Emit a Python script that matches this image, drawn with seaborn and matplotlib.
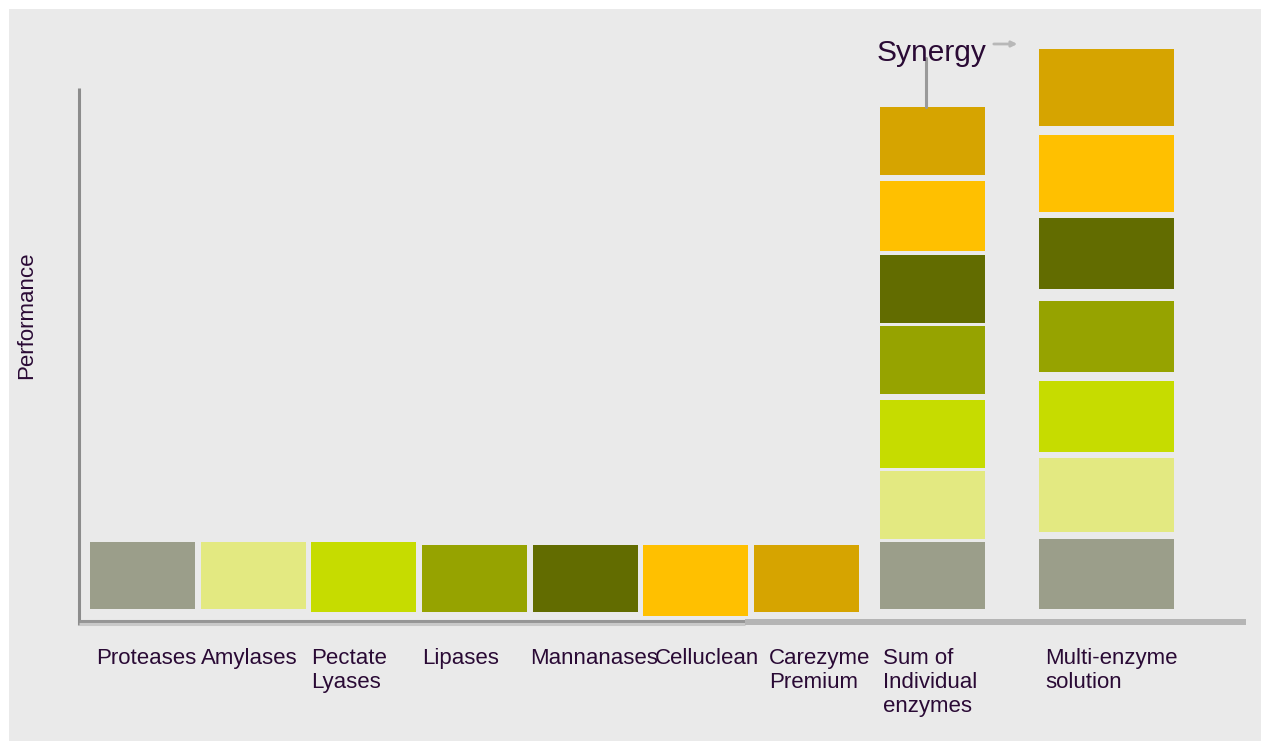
import matplotlib
matplotlib.use("Agg")
import matplotlib.pyplot as plt
from matplotlib.patches import Rectangle
import seaborn as sns
import pandas as pd

# ---------------- data (arbitrary performance units) ----------------
enzymes = ["Proteases", "Amylases", "Pectate\nLyases", "Lipases", "Mannanases",
           "Celluclean", "Carezyme\nPremium"]
enzyme_colors = ["#9b9e8a", "#e3e981", "#c6dc00", "#96a300", "#626c00", "#ffc000", "#d6a400"]
single_bottom = [13, 13, 10, 10, 10, 6, 10]
single_top = [80, 80, 80, 77, 77, 77, 77]

combo_labels = ["Sum of\nIndividual\nenzymes", "Multi-enzyme\nsolution"]
# segments stacked in enzyme order (Proteases at bottom ... Carezyme at top)
sum_bottom = [13, 83, 154, 228, 299, 371, 447]
sum_top = [80, 151, 222, 296, 367, 441, 515]
multi_bottom = [13, 90, 170, 250, 333, 410, 496]
multi_top = [83, 164, 241, 321, 404, 487, 573]

y_label = "Performance"
synergy_label = "Synergy"

# ---------------- style ----------------
sns.set_theme(style="white")
plt.rcParams["font.family"] = ["Liberation Sans", "DejaVu Sans"]
TXT = "#2a0a35"

fig = plt.figure(figsize=(12.61, 7.41), dpi=100, facecolor="white")
W, H = 1261, 741
fig.patches.append(Rectangle((9 / W, 0), 1, (H - 9) / H, transform=fig.transFigure,
                             facecolor="#eaeaea", edgecolor="none", zorder=-10))

ax = fig.add_axes([79 / W, (H - 622) / H, (1245 - 79) / W, (622 - 20) / H])
ax.patch.set_visible(False)

df = pd.DataFrame({"enzyme": enzymes, "top": single_top})
sns.barplot(data=df, x="enzyme", y="top", hue="enzyme", order=enzymes, hue_order=enzymes,
            palette=enzyme_colors, dodge=False, legend=False, errorbar=None,
            width=0.949, saturation=1, linewidth=0, edgecolor="none", ax=ax)
for patch, b, t in zip(ax.patches, single_bottom, single_top):
    patch.set_y(b)
    patch.set_height(t - b)

# stacked bars
combo_pos = [7.138, 8.711]
combo_width = [0.949, 1.22]
for pos, wd, bots, tops in zip(combo_pos, combo_width,
                               [sum_bottom, multi_bottom], [sum_top, multi_top]):
    for b, t, c in zip(bots, tops, enzyme_colors):
        ax.bar(pos, t - b, bottom=b, width=wd, color=c, linewidth=0)

ax.set_xlim(-0.574, 9.962)
ax.set_ylim(0, 602)
for s in ax.spines.values():
    s.set_visible(False)
ax.set_xticks([])
ax.set_yticks([])
ax.set_xlabel("")
ax.set_ylabel("")

# axis lines
ax.plot([-0.574, -0.574], [-3, 534], color="#8c8c8c", lw=2.2, clip_on=False,
        solid_capstyle="butt")
ax.plot([-0.574, 5.444], [1.5, 1.5], color="#969696", lw=2.2, clip_on=False,
        solid_capstyle="butt")
ax.plot([-0.574, 5.444], [-1.5, -1.5], color="#c9c9c9", lw=2.2, clip_on=False,
        solid_capstyle="butt")
ax.plot([5.444, 9.97], [0, 0], color="#b5b5b5", lw=4.3, clip_on=False,
        solid_capstyle="butt")

# category labels
all_labels = enzymes + combo_labels
all_pos = list(range(len(enzymes))) + combo_pos
all_w = [0.949] * len(enzymes) + combo_width
label_shift = [0.054, 0.0, 0.0, 0.0, -0.027, 0.1, 0.136, 0.027, 0.054]
for lab, p, wd, sh in zip(all_labels, all_pos, all_w, label_shift):
    ax.text(p - wd / 2 + sh, -26, lab, ha="left", va="top", fontsize=16,
            color=TXT, linespacing=1.2, clip_on=False)

# y label
fig.text(27 / W, 1 - 315 / H, y_label, rotation=90, ha="center", va="center",
         fontsize=16, color=TXT)

# synergy annotation
ax.text(6.637, 561, synergy_label, ha="left", va="baseline", fontsize=21.5,
        color=TXT, clip_on=False)
ax.plot([7.08, 7.08], [sum_top[-1], 564], color="#9a9a9a", lw=2.2, clip_on=False)
ax.annotate("", xy=(7.93, 578), xytext=(7.667, 578),
            arrowprops=dict(arrowstyle="-|>", color="#b8b8b8", lw=2,
                            mutation_scale=8), annotation_clip=False)

fig.savefig("out.png", dpi=100, facecolor="white")
